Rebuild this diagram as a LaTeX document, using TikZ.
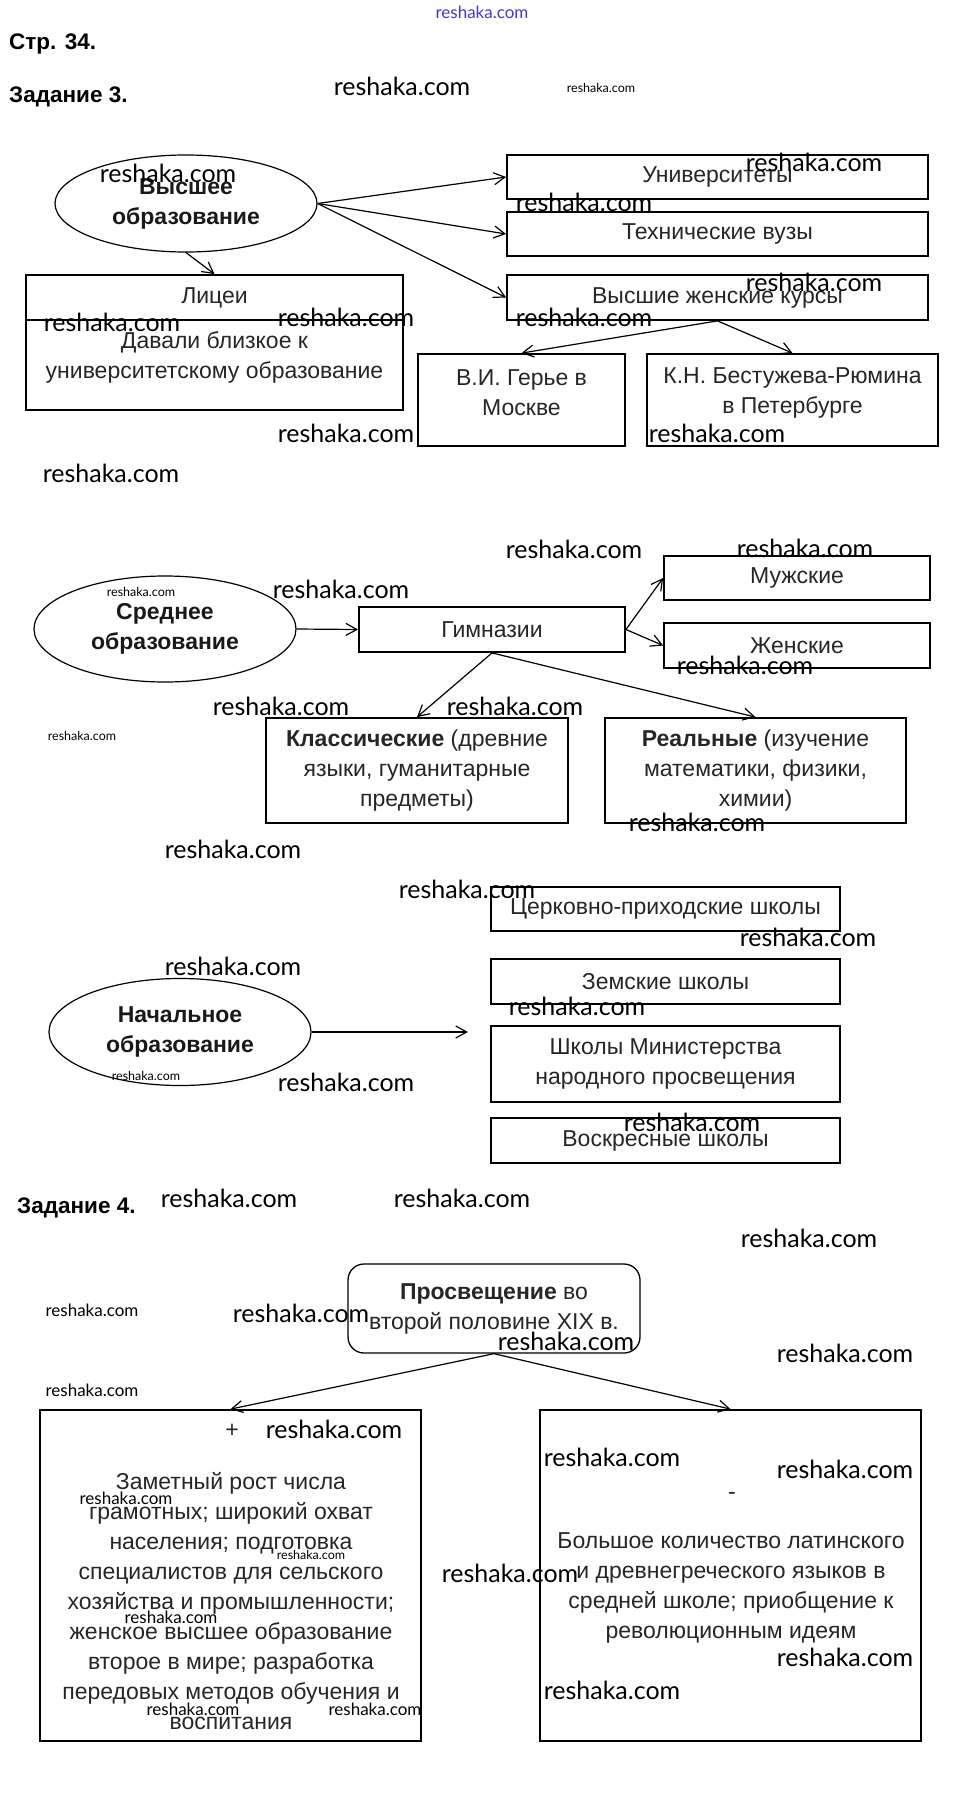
\documentclass[tikz,border=0pt]{standalone}
\usepackage{fontspec}
\setmainfont{Liberation Sans}
\newfontfamily\wmfont{Lato}
\usetikzlibrary{arrows.meta,shapes.geometric}
\tikzset{
 box/.style={draw, line width=1.8pt, inner sep=0pt},
 ell/.style={draw, ellipse, line width=1.2pt, inner sep=0pt, font=\fontsize{23}{30}\selectfont\bfseries, text=black!90, align=center},
 txt/.style={font=\fontsize{23}{30}\selectfont, text=black!85, align=center, inner sep=0pt},
 arr/.style={line width=1.2pt, -{Straight Barb[length=11pt,width=12pt,line width=1.2pt]}},
 wm/.style={font=\wmfont\fontsize{25}{25}\selectfont, inner sep=0pt},
 wms/.style={font=\wmfont\fontsize{12.5}{13}\selectfont, inner sep=0pt},
 wmm/.style={font=\wmfont\fontsize{17}{17}\selectfont, inner sep=0pt},
 head/.style={font=\fontsize{22.5}{23}\selectfont\bfseries, anchor=base west, inner sep=0pt},
}
\begin{document}
\begin{tikzpicture}[x=1pt,y=-1pt]
\useasboundingbox[fill=white] (0,0) rectangle (958,1809);

% headings
\node[font=\wmfont\fontsize{17}{17}\selectfont, text={rgb,255:red,60;green,60;blue,200}, inner sep=0pt] (top) at (482,12) {reshaka.com};
\node[head] (h1) at (9,50) {Стр. 34.};
\node[head] (h2) at (9,103) {Задание 3.};
\node[head] (h3) at (17,1213) {Задание 4.};

% ---- Высшее образование
\node[ell, minimum width=262pt, minimum height=97pt] (vo) at (186,203.5) {Высшее\\образование};
\node[box, txt, minimum width=421pt, minimum height=44pt] (univ) at (717.5,177) {Университеты};
\node[box, txt, minimum width=421pt, minimum height=44pt] (tech) at (717.5,234) {Технические вузы};
\node[box, txt, minimum width=421pt, minimum height=45pt] (women) at (717.5,297.5) {Высшие женские курсы};
\node[box, txt, minimum width=377pt, minimum height=45pt] (licei) at (214.5,297.5) {Лицеи};
\node[box, minimum width=377pt, minimum height=90pt] (davali) at (214.5,365) {};
\node[txt] (davalit) at (214.5,357) {Давали близкое к\\университетскому образование};
\node[box, minimum width=207pt, minimum height=92pt] (gerie) at (521.5,400) {};
\node[txt] (gerit) at (521.5,392.5) {В.И. Герье в\\Москве};
\node[box, minimum width=291pt, minimum height=92pt] (best) at (792.5,400) {};
\node[txt] (bestt) at (792.5,392.5) {К.Н. Бестужева-Рюмина\\в Петербурге};

\draw[arr] (vo.east) -- (univ.west);
\draw[arr] (vo.east) -- (tech.west);
\draw[arr] (vo.east) -- (women.west);
\draw[arr] (vo.south) -- (licei.north);
\draw[arr] (women.south) -- (gerie.north);
\draw[arr] (women.south) -- (best.north);

% ---- Среднее образование
\node[ell, minimum width=262pt, minimum height=106pt] (so) at (165,629) {Среднее\\образование};
\node[box, txt, minimum width=266pt, minimum height=45pt] (gym) at (492,629.5) {Гимназии};
\node[box, txt, minimum width=266pt, minimum height=44pt] (muzh) at (797,578) {Мужские};
\node[box, txt, minimum width=266pt, minimum height=45pt] (zhen) at (797,645.5) {Женские};
\node[box, txt, minimum width=302pt, minimum height=105pt] (klass) at (417,770.5) {\textbf{Классические} (древние\\языки, гуманитарные\\предметы)};
\node[box, txt, minimum width=301pt, minimum height=105pt] (real) at (755.5,770.5) {\textbf{Реальные} (изучение\\математики, физики,\\химии)};

\draw[arr] (so.east) -- (gym.west);
\draw[arr] (gym.east) -- (muzh.west);
\draw[arr] (gym.east) -- (zhen.west);
\draw[arr] (gym.south) -- (klass.north);
\draw[arr] (gym.south) -- (real.north);

% ---- Начальное образование
\node[ell, minimum width=262pt, minimum height=107pt] (no) at (180,1032) {Начальное\\образование};
\node[box, txt, minimum width=349pt, minimum height=44pt] (cerk) at (665.5,909) {Церковно-приходские школы};
\node[box, txt, minimum width=349pt, minimum height=45pt] (zem) at (665.5,981.5) {Земские школы};
\node[box, txt, minimum width=349pt, minimum height=76pt] (min) at (665.5,1064) {Школы Министерства\\народного просвещения};
\node[box, txt, minimum width=349pt, minimum height=45pt] (vosk) at (665.5,1140.5) {Воскресные школы};
\coordinate (noend) at (468,1032);
\draw[arr] (no.east) -- (noend);

% ---- Задание 4
\node[draw, line width=1.3pt, rounded corners=16pt, minimum width=292pt, minimum height=89pt, txt] (pros) at (494,1308.5) {\textbf{Просвещение} во\\второй половине XIX в.};
\node[box, minimum width=381pt, minimum height=331pt] (plus) at (230.5,1575.5) {};
\node[box, minimum width=381pt, minimum height=331pt] (minus) at (730.5,1575.5) {};
\node[txt] (plust) at (232,1431) {+};
\node[txt] (minust) at (732,1496) {-};
\node[txt] (plusx) at (231,1601) {Заметный рост числа\\грамотных; широкий охват\\населения; подготовка\\специалистов для сельского\\хозяйства и промышленности;\\женское высшее образование\\второе в мире; разработка\\передовых методов обучения и\\воспитания};
\node[txt] (minusx) at (731,1588) {Большое количество латинского\\и древнегреческого языков в\\средней школе; приобщение к\\революционным идеям};
\draw[arr] (pros.south) -- (plus.north);
\draw[arr] (pros.south) -- (minus.north);

% ---- watermarks
\foreach \x/\y [count=\i] in {402/86,168/173,814/162,584/202,814/282,584/317,112/322,346/317,346/433,717/433,111/473,574/549,805/548,341/589,745/665,281/706,515/706,697/822,233/849,467/889,808/937,233/966,577/1006,346/1082,692/1122,229/1198,462/1198,809/1238,301/1313,566/1341,845/1353,334/1429,612/1457,845/1469,510/1573,845/1657,612/1690}
  \node[wm] (wl\i) at (\x,\y) {reshaka.com};
\foreach \x/\y [count=\i] in {601/88,141/592,82/736,146/1076,311/1555}
  \node[wms] (ws\i) at (\x,\y) {reshaka.com};
\foreach \x/\y [count=\i] in {92/1310,92/1390,126/1498,171/1617,193/1709,375/1709}
  \node[wmm] (wm\i) at (\x,\y) {reshaka.com};
\end{tikzpicture}
\end{document}
